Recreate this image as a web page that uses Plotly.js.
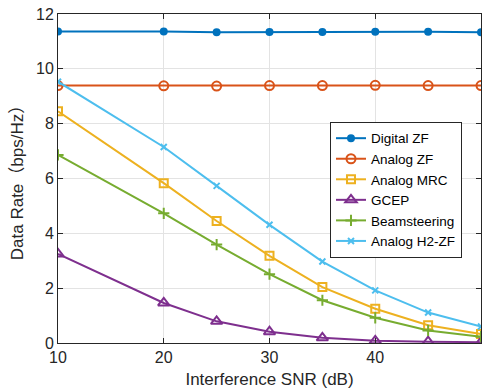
<!DOCTYPE html>
<html>
<head>
<meta charset="utf-8">
<script src="https://cdn.plot.ly/plotly-3.0.1.min.js"></script>
<style>html,body{margin:0;padding:0;background:#fff;}#chart{width:487px;height:392px;}</style>
</head>
<body>
<div id="chart"></div>
<script>
const snr = [10, 20, 25, 30, 35, 40, 45, 50];
const digitalZF = [11.36, 11.36, 11.33, 11.34, 11.34, 11.35, 11.35, 11.33];
const analogZF = [9.39, 9.38, 9.37, 9.39, 9.39, 9.40, 9.39, 9.39];
const analogMRC = [8.45, 5.83, 4.45, 3.18, 2.04, 1.25, 0.65, 0.33];
const gcep = [3.25, 1.46, 0.79, 0.41, 0.19, 0.08, 0.05, 0.03];
const beamsteering = [6.86, 4.73, 3.59, 2.51, 1.56, 0.92, 0.46, 0.23];
const analogH2ZF = [9.53, 7.15, 5.73, 4.31, 2.97, 1.92, 1.11, 0.60];

const names = ['Digital ZF', 'Analog ZF', 'Analog MRC', 'GCEP', 'Beamsteering', 'Analog H2-ZF'];
const series = [digitalZF, analogZF, analogMRC, gcep, beamsteering, analogH2ZF];
const colors = ['#0072BD', '#D95319', '#EDB120', '#7E2F8E', '#77AC30', '#4DBEEE'];
const symbols = ['circle', 'circle-open', 'square-open', 'triangle-up-open', 'cross-thin-open', 'x-thin-open'];
const sizes = [6, 9, 8, 10, 8, 6];

const traces = series.map((y, i) => ({
  x: snr, y: y, name: names[i], type: 'scatter', mode: 'lines+markers',
  line: {color: colors[i], width: 2},
  marker: {symbol: symbols[i], size: sizes[i], color: colors[i], line: {color: colors[i], width: 2}}
}));

const FONT = 'Liberation Sans, Arial, sans-serif';
const axisCommon = {
  showline: true, mirror: 'allticks', linecolor: '#262626', linewidth: 1,
  ticks: 'inside', ticklen: 5, tickcolor: '#262626',
  showgrid: true, gridcolor: '#e3e3e3', gridwidth: 1, zeroline: false,
  tickfont: {family: FONT, size: 16, color: '#262626'}
};

const layout = {
  width: 487, height: 392,
  margin: {l: 58, r: 6, t: 14, b: 49},
  paper_bgcolor: '#fff', plot_bgcolor: '#fff',
  showlegend: true,
  legend: {x: 0.643, y: 0.672, xanchor: 'left', yanchor: 'top',
    bgcolor: '#fff', bordercolor: '#262626', borderwidth: 1,
    font: {family: FONT, size: 13.5, color: '#000'},
    tracegroupgap: 0},
  xaxis: Object.assign({}, axisCommon, {range: [10, 50], tickvals: [10, 20, 30, 40, 50],
    title: {text: 'Interference SNR (dB)', standoff: 7, font: {family: FONT, size: 17, color: '#262626'}}}),
  yaxis: Object.assign({}, axisCommon, {range: [0, 12], tickvals: [0, 2, 4, 6, 8, 10, 12],
    title: {text: 'Data Rate（bps/Hz）', standoff: 8, font: {family: 'Liberation Sans, Noto Sans CJK SC, Arial, sans-serif', size: 17, color: '#262626'}}})
};

Plotly.newPlot('chart', traces, layout, {displayModeBar: false, staticPlot: true});
</script>
</body>
</html>
